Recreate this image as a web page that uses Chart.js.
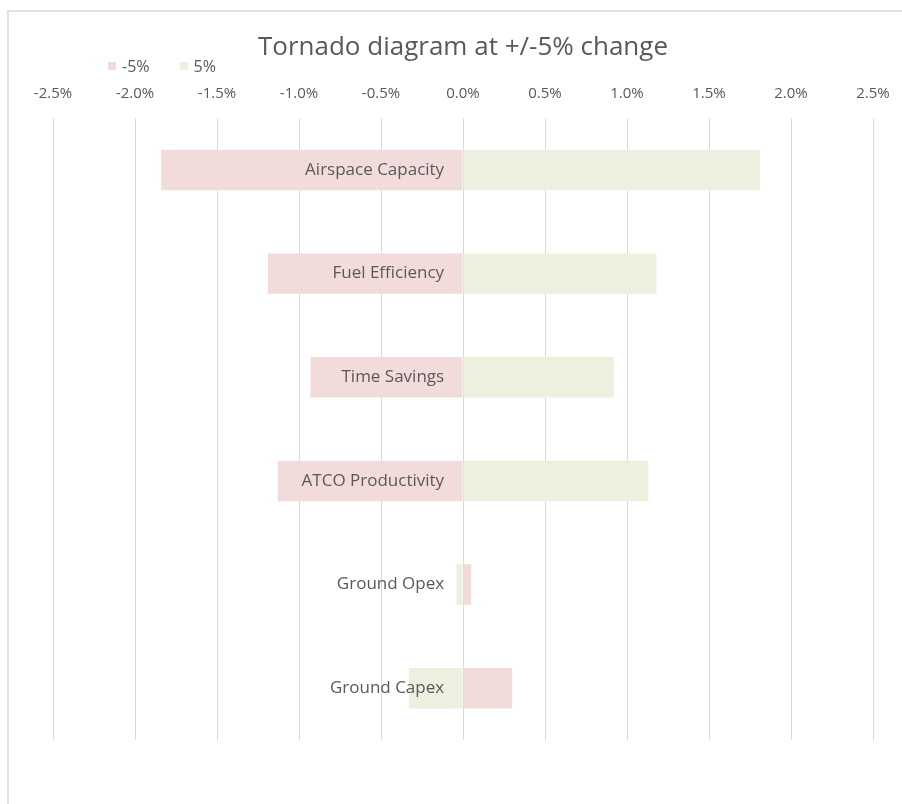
<!DOCTYPE html>
<html>
<head>
<meta charset="utf-8">
<title>Tornado diagram</title>
<script src="https://cdn.jsdelivr.net/npm/chart.js@4.4.1/dist/chart.umd.min.js"></script>
<style>
  html,body{margin:0;padding:0;background:#fff;overflow:hidden;width:902px;height:804px;}
  #frame{position:absolute;left:7px;top:10px;width:900px;height:800px;border-top:2px solid #e2e2e2;border-left:2px solid #e2e2e2;}
  #box{position:absolute;left:7px;top:10px;width:908px;height:794px;}
  #legend{position:absolute;left:108px;top:55px;font:16px "Open Sans",sans-serif;color:#595959;display:flex;align-items:center;}
  #legend span.it{display:flex;align-items:center;margin-right:30px;}
  #legend i{display:inline-block;width:8px;height:8px;margin-right:6px;}
</style>
</head>
<body>
<div id="frame"></div>
<div id="box"><canvas id="chTornado"></canvas></div>
<div id="legend"></div>
<script>
/* ---- datos ---- */
const categorias = ['Airspace Capacity','Fuel Efficiency','Time Savings','ATCO Productivity','Ground Opex','Ground Capex'];
const serieMenos5 = [-1.84,-1.19,-0.93,-1.13,0.05,0.30];   // variación -5%
const serieMas5   = [1.81,1.18,0.92,1.13,-0.04,-0.33];     // variación +5%
const ticksX = [-2.5,-2.0,-1.5,-1.0,-0.5,0.0,0.5,1.0,1.5,2.0,2.5];

const C = {rosa:'#F2DCDB', verde:'#EBF1DE', txt:'#595959', grid:'#d9d9d9'};
const FONT = '"Open Sans", sans-serif';
// el eje de categorías se coloca un poco a la izquierda del cero
// (con posición por valor Chart.js no aplica ticks.padding)
const EJE_Y_EN = -0.115;

const chT = new Chart(document.getElementById('chTornado'),{
  type:'bar',
  data:{labels:categorias,datasets:[
    {label:'-5%',data:serieMenos5,backgroundColor:C.rosa,barPercentage:0.39,categoryPercentage:1},
    {label:'5%', data:serieMas5, backgroundColor:C.verde,barPercentage:0.39,categoryPercentage:1}]},
  options:{
    indexAxis:'y',responsive:true,maintainAspectRatio:false,animation:false,
    layout:{padding:{left:46,right:42,top:0,bottom:64}},
    plugins:{
      legend:{display:false},tooltip:{enabled:false},
      title:{display:true,text:'Tornado diagram at +/-5% change',color:C.txt,
        font:{family:FONT,size:26,weight:'normal'},padding:{top:22,bottom:7}}
    },
    scales:{
      x:{position:'top',min:-2.5,max:2.5,
        afterBuildTicks:s=>{s.ticks=ticksX.map(v=>({value:v}));},
        grid:{color:C.grid,drawTicks:false},border:{display:false},
        ticks:{color:C.txt,padding:15,font:{family:FONT,size:15},callback:v=>v.toFixed(1)+'%'}},
      y:{stacked:true,position:{x:EJE_Y_EN},
        afterFit:s=>{s.width=0;},
        grid:{display:false},border:{display:false},
        ticks:{z:1,color:C.txt,font:{family:FONT,size:17}}}
    }
  }
});

/* leyenda en HTML, a partir de las series */
document.getElementById('legend').innerHTML = chT.data.datasets.map(d=>
  `<span class="it"><i style="background:${d.backgroundColor}"></i>${d.label}</span>`).join('');
</script>
</body>
</html>
